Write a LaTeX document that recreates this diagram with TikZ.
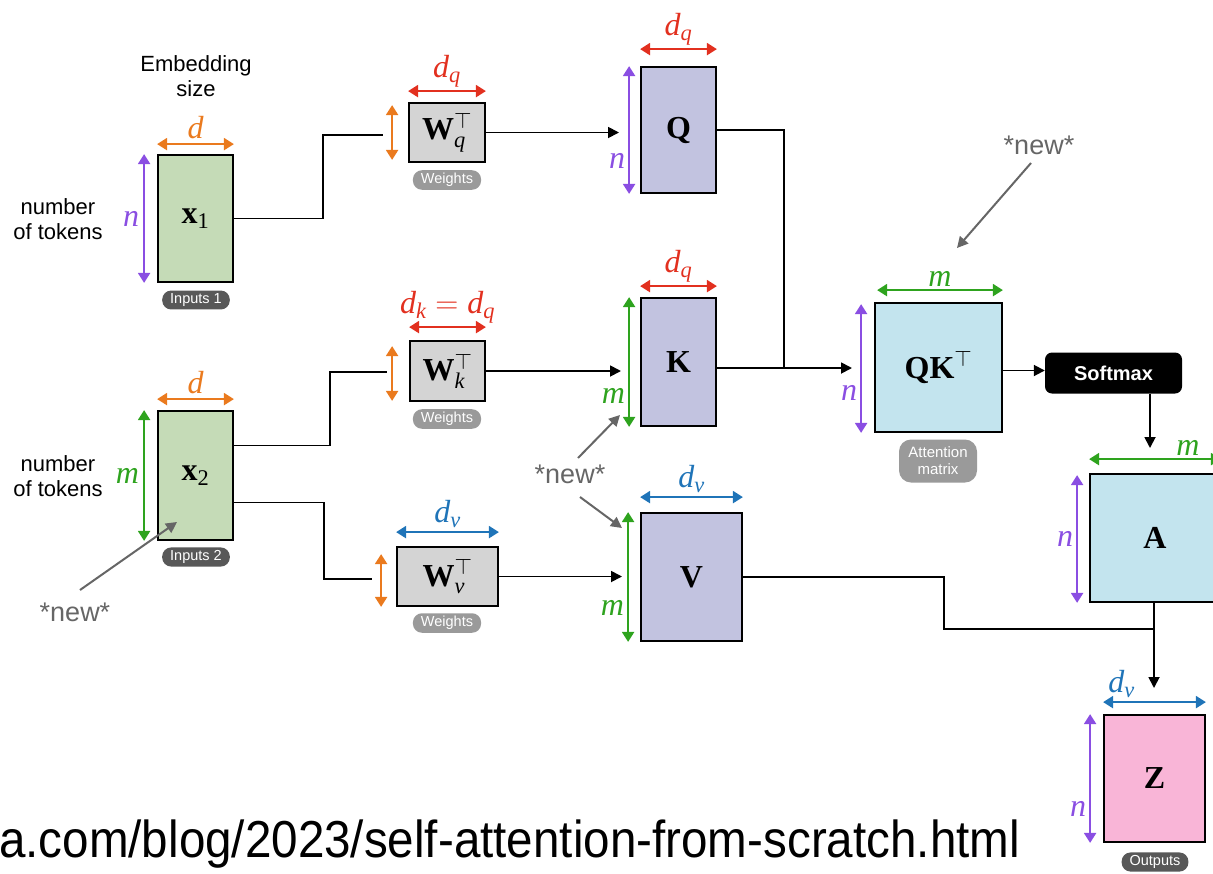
\RequirePackage{fix-cm}
\documentclass[tikz,border=0pt]{standalone}
\usepackage[no-math]{fontspec}
\setsansfont{Liberation Sans}
\newfontfamily\lserif{Liberation Serif}[NFSSFamily=lserif]
\DeclareMathAlphabet{\mathlit}{TU}{lserif}{m}{it}
\DeclareMathAlphabet{\mathlbf}{TU}{lserif}{b}{n}
\DeclareMathAlphabet{\mathlrm}{TU}{lserif}{m}{n}
\usetikzlibrary{arrows.meta,calc}

\definecolor{inGreen}{HTML}{C5DBB7}
\definecolor{wGray}{HTML}{D4D4D4}
\definecolor{qkvLav}{HTML}{C2C3E0}
\definecolor{attBlue}{HTML}{C3E4EE}
\definecolor{outPink}{HTML}{F9B5D7}
\definecolor{dimOrange}{HTML}{EA7A1E}
\definecolor{dimRed}{HTML}{E2301F}
\definecolor{dimPurple}{HTML}{8A4EE2}
\definecolor{dimGreen}{HTML}{2EA31E}
\definecolor{dimBlue}{HTML}{1F74B8}
\definecolor{noteGray}{HTML}{666666}
\definecolor{pillDark}{HTML}{585858}
\definecolor{pillLight}{HTML}{9A9A9A}

% matrix symbols and dimension symbols
\newcommand{\bsym}[1]{\mathlbf{#1}}
\newcommand{\isym}[1]{\mathlit{#1}}

\begin{document}
\begin{tikzpicture}[x=1pt,y=-1pt,
  mat/.style={draw=black, line width=1.8pt, inner sep=0pt,
              font=\fontsize{32}{34}\selectfont},
  conn/.style={line width=1.8pt, draw=black},
  flow/.style={conn, -{Triangle[length=11pt,width=11pt]}},
  dimarr/.style={line width=2.2pt,
                 {Triangle[length=10pt,width=12pt]}-{Triangle[length=10pt,width=12pt]}},
  dimlab/.style={inner sep=1pt, font=\fontsize{32}{34}\selectfont},
  pill/.style={rounded corners=9pt, inner xsep=8pt, inner ysep=3pt, text=white,
               align=center, font=\sffamily\fontsize{14.5}{15.5}\selectfont},
  note/.style={text=noteGray, inner sep=1pt, font=\sffamily\fontsize{27}{29}\selectfont},
  notearrow/.style={draw=noteGray, line width=2pt, -{Triangle[length=11pt,width=11pt]}},
  caption/.style={align=center, inner sep=0pt, font=\sffamily\fontsize{22}{25}\selectfont}
]
\useasboundingbox (0,0) rectangle (1213,873);

% ---------- matrices ----------
\node[mat, fill=inGreen, minimum width=75pt, minimum height=127pt] (x1) at (195.5,218.5) {$\bsym{x}_{\mathlrm{1}}$};
\node[mat, fill=inGreen, minimum width=75pt, minimum height=129pt] (x2) at (195.5,475.5) {$\bsym{x}_{\mathlrm{2}}$};

\node[mat, fill=wGray, minimum width=76pt, minimum height=59pt] (Wq) at (447,132.5) {$\bsym{W}_{\isym{q}}^{\top}$};
\node[mat, fill=wGray, minimum width=75pt, minimum height=60pt] (Wk) at (447.5,371) {$\bsym{W}_{\isym{k}}^{\top}$};
\node[mat, fill=wGray, minimum width=101pt, minimum height=59pt] (Wv) at (447.5,576.5) {$\bsym{W}_{\isym{v}}^{\top}$};

\node[mat, fill=qkvLav, minimum width=75pt, minimum height=126pt] (Q) at (678.5,130) {$\bsym{Q}$};
\node[mat, fill=qkvLav, minimum width=75pt, minimum height=128pt] (K) at (678.5,362) {$\bsym{K}$};
\node[mat, fill=qkvLav, minimum width=101pt, minimum height=128pt] (V) at (691.5,577) {$\bsym{V}$};

\node[mat, fill=attBlue, minimum width=127pt, minimum height=129pt] (QK) at (938.5,367.5) {$\bsym{QK}^{\top}$};
\node[rounded corners=7pt, fill=black, text=white, minimum width=137pt, minimum height=41pt,
      font=\sffamily\bfseries\fontsize{20}{21}\selectfont] (SM) at (1113.5,373) {Softmax};
\node[mat, fill=attBlue, minimum width=130pt, minimum height=128pt] (A) at (1155,538) {$\bsym{A}$};
\node[mat, fill=outPink, minimum width=101pt, minimum height=127pt] (Z) at (1154.5,778.5) {$\bsym{Z}$};

% ---------- tags under matrices ----------
\node[pill, fill=pillDark] (t1) at (196,300) {Inputs 1};
\node[pill, fill=pillDark] (t2) at (196,557) {Inputs 2};
\node[pill, fill=pillLight] (tq) at (447,180) {Weights};
\node[pill, fill=pillLight] (tk) at (447,419) {Weights};
\node[pill, fill=pillLight] (tv) at (447,623) {Weights};
\node[pill, fill=pillLight, rounded corners=12pt, minimum width=78pt, minimum height=43pt,
      font=\sffamily\fontsize{15}{17}\selectfont] (tqk) at (938,461) {Attention\\matrix};
\node[pill, fill=pillDark] (tz) at (1155,862) {Outputs};

% ---------- captions ----------
\node[caption] (emb) at (196,76) {Embedding\\size};
\node[caption] (nt1) at (58,219) {number\\of tokens};
\node[caption] (nt2) at (58,476) {number\\of tokens};

% ---------- dimension arrows ----------
% inputs
\draw[dimarr, dimOrange] ([yshift=10pt]x1.north west) -- ([yshift=10pt]x1.north east)
  node[midway, above=3pt, dimlab, text=dimOrange] {$\isym{d}$};
\draw[dimarr, dimPurple] ([xshift=-13pt]x1.north west) -- ([xshift=-13pt]x1.south west)
  node[midway, left=3pt, dimlab, text=dimPurple] {$\isym{n}$};
\draw[dimarr, dimOrange] ([yshift=11pt]x2.north west) -- ([yshift=11pt]x2.north east)
  node[midway, above=3pt, dimlab, text=dimOrange] {$\isym{d}$};
\draw[dimarr, dimGreen] ([xshift=-13pt]x2.north west) -- ([xshift=-13pt]x2.south west)
  node[midway, left=3pt, dimlab, text=dimGreen] {$\isym{m}$};

% weights
\draw[dimarr, dimRed] ([yshift=11pt]Wq.north west) -- ([yshift=11pt]Wq.north east)
  node[midway, above=2pt, dimlab, text=dimRed] {$\isym{d}_{\isym{q}}$};
\draw[dimarr, dimOrange] ([xshift=-16pt,yshift=-3pt]Wq.north west) -- ([xshift=-16pt,yshift=3pt]Wq.south west);
\draw[dimarr, dimRed] ([yshift=13pt]Wk.north west) -- ([yshift=13pt]Wk.north east)
  node[midway, above=2pt, dimlab, text=dimRed] {$\isym{d}_{\isym{k}} = \isym{d}_{\isym{q}}$};
\draw[dimarr, dimOrange] ([xshift=-17pt,yshift=-6pt]Wk.north west) -- ([xshift=-17pt,yshift=1pt]Wk.south west);
\draw[dimarr, dimBlue] ([yshift=14pt]Wv.north west) -- ([yshift=14pt]Wv.north east)
  node[midway, above=2pt, dimlab, text=dimBlue] {$\isym{d}_{\isym{v}}$};
\draw[dimarr, dimOrange] ([xshift=-15pt,yshift=-8pt]Wv.north west) -- ([xshift=-15pt,yshift=0pt]Wv.south west);

% projections
\draw[dimarr, dimRed] ([yshift=17pt]Q.north west) -- ([yshift=17pt]Q.north east)
  node[midway, above=2pt, dimlab, text=dimRed] {$\isym{d}_{\isym{q}}$};
\draw[dimarr, dimPurple] ([xshift=-11pt]Q.north west) -- ([xshift=-11pt]Q.south west)
  node[pos=0.74, left=2pt, dimlab, text=dimPurple] {$\isym{n}$};
\draw[dimarr, dimRed] ([yshift=11pt]K.north west) -- ([yshift=11pt]K.north east)
  node[midway, above=2pt, dimlab, text=dimRed] {$\isym{d}_{\isym{q}}$};
\draw[dimarr, dimGreen] ([xshift=-11pt]K.north west) -- ([xshift=-11pt]K.south west)
  node[pos=0.76, left=2pt, dimlab, text=dimGreen] {$\isym{m}$};
\draw[dimarr, dimBlue] ([yshift=15pt]V.north west) -- ([yshift=15pt]V.north east)
  node[midway, above=2pt, dimlab, text=dimBlue] {$\isym{d}_{\isym{v}}$};
\draw[dimarr, dimGreen] ([xshift=-12pt]V.north west) -- ([xshift=-12pt]V.south west)
  node[pos=0.74, left=2pt, dimlab, text=dimGreen] {$\isym{m}$};

% attention
\draw[dimarr, dimGreen] ([xshift=3pt,yshift=12pt]QK.north west) -- ([yshift=12pt]QK.north east)
  node[midway, above=2pt, dimlab, text=dimGreen] {$\isym{m}$};
\draw[dimarr, dimPurple] ([xshift=-13pt,yshift=-2pt]QK.north west) -- ([xshift=-13pt]QK.south west)
  node[pos=0.69, left=2pt, dimlab, text=dimPurple] {$\isym{n}$};
\draw[dimarr, dimGreen] ([yshift=14pt]A.north west) -- ([yshift=14pt]A.north east)
  node[pos=0.75, above=2pt, dimlab, text=dimGreen] {$\isym{m}$};
\draw[dimarr, dimPurple] ([xshift=-12pt,yshift=-2pt]A.north west) -- ([xshift=-12pt]A.south west)
  node[midway, left=2pt, dimlab, text=dimPurple] {$\isym{n}$};

% output
\draw[dimarr, dimBlue] ([yshift=12pt]Z.north west) -- ([yshift=12pt]Z.north east)
  node[pos=0.18, above=2pt, dimlab, text=dimBlue] {$\isym{d}_{\isym{v}}$};
\draw[dimarr, dimPurple] ([xshift=-13pt]Z.north west) -- ([xshift=-13pt]Z.south west)
  node[pos=0.74, left=2pt, dimlab, text=dimPurple] {$\isym{n}$};

% ---------- connectors ----------
\coordinate (wqIn) at (383,135);
\coordinate (wkIn) at (387,372);
\coordinate (wvIn) at (372,579);
\coordinate (qIn) at (619,133);
\coordinate (kIn) at (621,371);
\coordinate (vIn) at (622,576);
\coordinate (qkJoin) at (784,368);
\coordinate (qkIn) at (852,368);
\coordinate (aIn) at (1150,448);
\coordinate (vzBend) at (944,629);
\coordinate (zJoin) at (1154,629);
\coordinate (zIn) at (1154,688);

\draw[conn] (x1.east) -- (323,218.5) |- (wqIn);
\draw[conn] ([yshift=30pt]x2.east) -- (330,445.5) |- (wkIn);
\draw[conn] ([yshift=-27pt]x2.east) -- (324,502.5) |- (wvIn);

\draw[flow] (Wq.east) -- (Wq.east -| qIn);
\draw[flow] (Wk.east) -- (Wk.east -| kIn);
\draw[flow] (Wv.east) -- (Wv.east -| vIn);

\draw[conn] (Q.east) -| (qkJoin);
\draw[flow] ([yshift=-6pt]K.east) -- (qkIn);
\draw[flow] ([yshift=-3pt]QK.east) -- ([yshift=-3pt]QK.east -| SM.west);
\draw[flow] ([xshift=36.5pt]SM.south) -- (aIn);

\draw[conn] (V.east) -| (vzBend) -- (zJoin);
\draw[flow] ([xshift=-1pt]A.south) -- (zIn);

% ---------- notes ----------
\node[note] (new1) at (1039,145) {*new*};
\node[note] (new2) at (570,474) {*new*};
\node[note] (new3) at (75,612) {*new*};
\coordinate (new1Tip) at (957,248);
\coordinate (new2TipK) at (620,415);
\coordinate (new2TipV) at (622,528);
\coordinate (new3Tip) at (177,522);
\draw[notearrow] (1031,163) -- (new1Tip);
\draw[notearrow] (578,458) -- (new2TipK);
\draw[notearrow] (580,497) -- (new2TipV);
\draw[notearrow] (80,590) -- (new3Tip);

% ---------- source line ----------
\node[anchor=base west, inner sep=0pt, font=\sffamily\fontsize{52}{56}\selectfont] (src) at (-1,857)
  {\scalebox{0.915}[1]{a.com/blog/2023/self-attention-from-scratch.html}};
\end{tikzpicture}
\end{document}
